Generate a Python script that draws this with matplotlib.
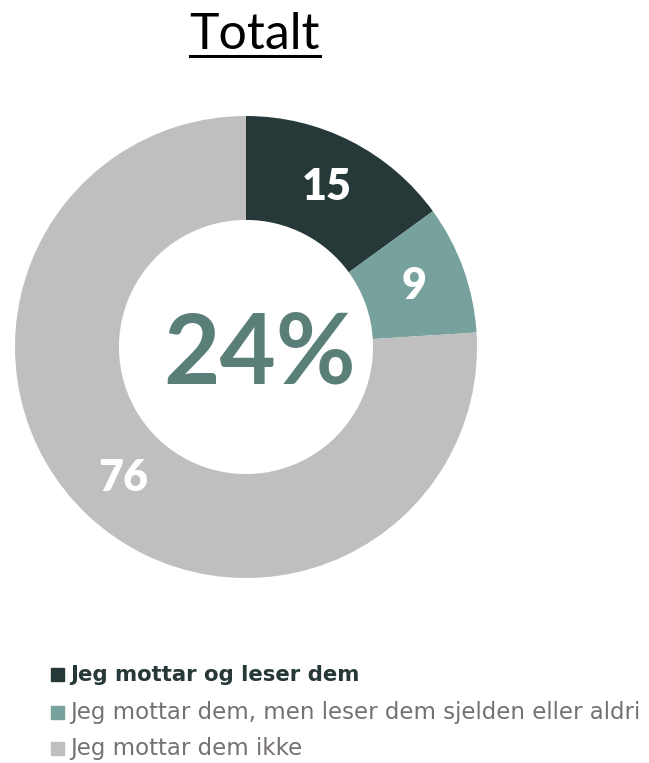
"""
Donut chart: Totalt.
"""
import matplotlib.pyplot as plt
import numpy as np

labels = ["Jeg mottar og leser dem",
          "Jeg mottar dem, men leser dem sjelden eller aldri",
          "Jeg mottar dem ikke"]
values = [15, 9, 76]
colors = ["#263837", "#76A19C", "#BFBFBF"]
center_text = "24%"
title = "Totalt"

plt.rcParams["font.family"] = ["Lato", "DejaVu Sans"]

W, H = 649, 763
fig = plt.figure(figsize=(W / 100, H / 100), dpi=100)

# donut axes, placed in pixels
cx, cy, r_px = 246, 347, 231
ax = fig.add_axes([(cx - r_px) / W, (H - cy - r_px) / H, 2 * r_px / W, 2 * r_px / H])
wedges, _ = ax.pie(values, colors=colors, startangle=90, counterclock=False,
                   radius=1.0, wedgeprops=dict(width=0.45, linewidth=0))
ax.set_xlim(-1, 1)
ax.set_ylim(-1, 1)
ax.set_aspect("equal")
ax.axis("off")

# value labels at wedge midpoints
for w, v in zip(wedges, values):
    ang = np.deg2rad((w.theta1 + w.theta2) / 2)
    ax.text(0.775 * np.cos(ang), 0.775 * np.sin(ang), str(v), ha="center", va="center",
            color="white", fontsize=31, fontweight="heavy")

ax.text(0.06, -0.035, center_text, ha="center", va="center", color="#5A7F79",
        fontsize=70, fontweight="bold")

# title with underline
t = fig.text(255 / W, 1 - 35 / H, title, ha="center", va="center", fontsize=36, color="black")
fig.canvas.draw()
bb = t.get_window_extent()
fig.add_artist(plt.Line2D([bb.x0 / W, bb.x1 / W], [1 - 56 / H] * 2,
                          color="black", linewidth=2.2))

# legend
rows_y = [675, 713, 749]
for lab, col, y, i in zip(labels, colors, rows_y, range(3)):
    fig.add_artist(plt.Rectangle((51 / W, 1 - (y + 6) / H), 13 / W, 13 / H,
                                 color=col, transform=fig.transFigure))
    fig.text(70 / W, 1 - y / H, lab, ha="left", va="center",
             fontsize=15.3 if i == 0 else 16.5,
             family="DejaVu Sans",
             color="#263837" if i == 0 else "#767171",
             fontweight="bold" if i == 0 else "normal")

fig.savefig("out.png", dpi=100)
